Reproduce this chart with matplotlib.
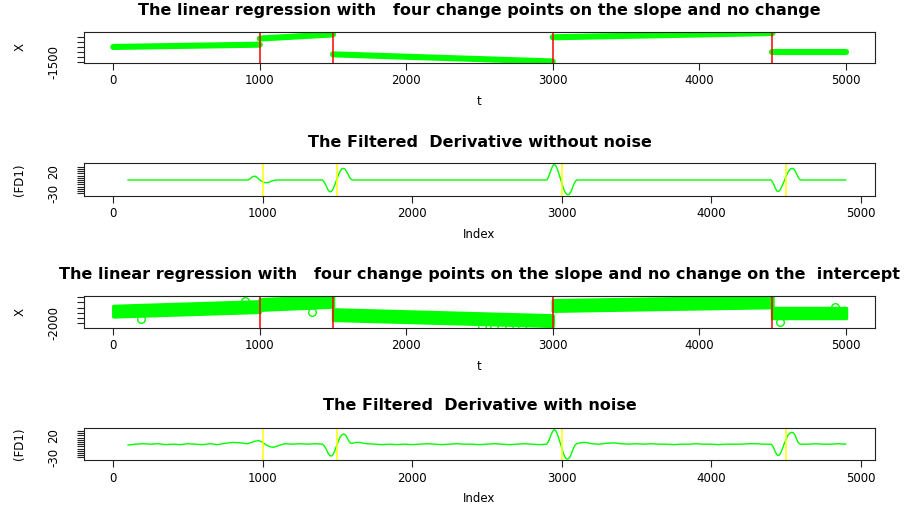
import matplotlib
matplotlib.use("Agg")
import matplotlib.pyplot as plt

W, H = 912, 509

# change points (red / yellow vertical lines)
change_points = [1000, 1500, 3000, 4500]

# regression without noise: segment ends (t) and fitted level at each end
seg_start = [0, 1000, 1500, 3000, 4500]
seg_end = [1000, 1500, 3000, 4500, 5000]
clean_start = [-1198, -1034, -1342, -1009, -1292]
clean_end = [-1153, -953, -1481, -926, -1292]

# regression with noise: band centre at segment ends, band half width
noisy_start = [-1540, -1285, -1672, -1323, -1622]
noisy_end = [-1365, -1165, -1900, -1185, -1622]
noisy_half = [200, 200, 200, 200, 195]
# stray points sticking out of the noisy band
stray_t = [186, 897, 1356, 1431, 2520, 2600, 2700, 2790, 4180, 4250, 4300, 4400, 4553, 4929]
stray_x = [-1823, -1150, -1554, -965, -2110, -2120, -2105, -2125, -968, -962, -966, -960, -1938, -1395]

# filtered derivative without noise
fd1_idx = [100, 900, 910, 920, 930, 940, 950, 960, 970, 980, 990, 1000, 1010, 1020, 1030,
           1040, 1050, 1060, 1070, 1080, 1090, 1100,
           1400, 1410, 1420, 1430, 1440, 1450, 1460, 1470, 1480, 1490, 1500, 1510, 1520,
           1530, 1540, 1550, 1560, 1570, 1580, 1590, 1600,
           2900, 2910, 2920, 2930, 2940, 2950, 2960, 2970, 2980, 2990, 3000, 3010, 3020,
           3030, 3040, 3050, 3060, 3070, 3080, 3090, 3100,
           4400, 4410, 4420, 4430, 4440, 4450, 4460, 4470, 4480, 4490, 4500, 4510, 4520,
           4530, 4540, 4550, 4560, 4570, 4580, 4590, 4600, 4900]
fd1_val = [0, 0, 1.5, 4, 7, 8.5, 8.5, 6.5, 3.5, 0.5, -2, -4, -5.5, -6, -6,
           -5.5, -4, -2.5, -1.5, -0.5, 0, 0,
           0, -4, -10, -17, -24, -27, -26, -21, -13, -4, 5, 14, 21,
           25.5, 26.5, 25, 20, 14, 7, 2, 0,
           0, 5, 14, 24, 32, 35.5, 33, 26, 16, 5, -6, -17, -26,
           -31, -33.5, -33, -28, -20, -11, -4, 0,
           0, -4, -11, -19, -25, -26, -23, -17, -9, -1, 7, 15, 21,
           25, 26.5, 26, 22, 15, 8, 2, 0, 0]

# filtered derivative with noise
fd2_idx = [100, 150, 200, 250, 300, 350, 400, 450, 500, 550, 600, 650, 700, 750, 800, 850, 900,
           925, 950, 975, 1000, 1025, 1050, 1075, 1100, 1125, 1150, 1200, 1250, 1300, 1350, 1400,
           1410, 1420, 1430, 1440, 1450, 1460, 1470, 1480, 1490, 1500, 1510, 1520, 1530, 1540,
           1550, 1560, 1570, 1580, 1590, 1600, 1625, 1650, 1675, 1700, 1750,
           1800, 1850, 1900, 1950, 2000, 2050, 2100, 2150, 2200, 2250, 2300, 2350, 2400, 2450,
           2500, 2550, 2600, 2650, 2700, 2750, 2800, 2850, 2900,
           2910, 2920, 2930, 2940, 2950, 2960, 2970, 2980, 2990, 3000, 3010, 3020, 3030, 3040,
           3050, 3060, 3070, 3080, 3090, 3100, 3125, 3150, 3175, 3200, 3250, 3300, 3350, 3400,
           3450, 3500, 3550, 3600, 3650, 3700, 3750, 3800, 3850, 3900, 3950, 4000, 4050, 4100,
           4150, 4200, 4250, 4300, 4350, 4400,
           4410, 4420, 4430, 4440, 4450, 4460, 4470, 4480, 4490, 4500, 4510, 4520, 4530, 4540,
           4550, 4560, 4570, 4580, 4590, 4600, 4650, 4700, 4750, 4800, 4850, 4900]
fd2_val = [-2, 0, 1, 0, 1, -1, 0, -1, 1, 0, -1, 1, -1, 2, 4, 3, 1,
           4, 7, 8, 4, -2, -6, -7, -4, -1, 1, 0, 1, 0, 1, 0,
           -3, -8, -15, -22, -26, -27, -24, -17, -8, 1, 10, 17, 21, 23,
           22, 18, 11, 5, 2, 2, 4, 4, 2, 1, 0,
           -1, 0, -1, 0, -1, 0, 1, 0, -1, 0, 1, 0, 0, -1,
           0, 1, 0, -1, 0, 1, 0, -1, 0,
           5, 13, 22, 29, 33, 31, 24, 14, 3, -8, -19, -28, -33, -34,
           -32, -26, -17, -8, -2, 1, 3, 4, 3, 1, 0, 2, 3, 1,
           0, 1, 0, 1, 0, 0, -1, 0, 0, 1, 0, 0, -1, 0,
           0, 0, 1, 1, 0, 0,
           -3, -10, -18, -24, -26, -23, -16, -7, 2, 10, 18, 23, 26, 27,
           26, 21, 13, 5, 1, 0, 0, 1, 0, 0, 1, 0]

x_ticks = [0, 1000, 2000, 3000, 4000, 5000]
p1_yticks = [-1500, -1400, -1300, -1200, -1100, -1000]
p3_yticks = [-2000, -1800, -1600, -1400, -1200, -1000]
fd_yticks = [-30, -25, -20, -15, -10, -5, 0, 5, 10, 15, 20, 25, 30]

GREEN = "#00ff00"
plt.rcParams["font.family"] = ["DejaVu Sans"]

fig = plt.figure(figsize=(W / 100, H / 100), dpi=100)


def make_axes(top, bottom):
    return fig.add_axes([84 / W, 1 - bottom / H, 791 / W, (bottom - top) / H])


def style(ax, title, title_y, xlabel, ylabel, yticks, ylabels, box_h):
    for s in ax.spines.values():
        s.set_linewidth(0.8)
        s.set_color("#222222")
    ax.set_xticks(x_ticks)
    ax.set_xticklabels([str(v) for v in x_ticks])
    ax.set_yticks(yticks)
    ax.set_yticklabels(ylabels)
    ax.tick_params(axis="both", direction="out", length=5, width=0.8,
                   color="#222222", labelsize=8.5)
    ax.tick_params(axis="x", pad=8)
    ax.tick_params(axis="y", pad=17, labelrotation=90)
    for lab in ax.get_xticklabels():
        lab.set_va("center")
    for lab in ax.get_yticklabels():
        lab.set_va("center")
        lab.set_ha("center")
    ax.set_xlabel(xlabel, fontsize=8.5, va="center")
    ax.xaxis.set_label_coords(0.5, -39 / box_h)
    ax.set_ylabel(ylabel, fontsize=8.5, va="center")
    ax.yaxis.set_label_coords((20 - 84) / 791, 0.5)
    fig.text((84 + 791 / 2) / W, 1 - title_y / H, title, ha="center", va="center",
             fontsize=11.5, fontweight="bold")


# panel 1: regression without noise
ax1 = make_axes(31.7, 62.7)
for t0, t1, y0, y1 in zip(seg_start, seg_end, clean_start, clean_end):
    ax1.plot([t0, t1], [y0, y1], color=GREEN, lw=4.4, solid_capstyle="round")
for c in change_points:
    ax1.axvline(c, color="red", lw=1.1)
ax1.set_xlim(-200, 5200)
ax1.set_ylim(-1505, -900)
style(ax1, "The linear regression with   four change points on the slope and no change",
      10, "t", "X", p1_yticks, ["-1500", "", "", "", "", ""], 31)

# panel 2: filtered derivative without noise
ax2 = make_axes(163.3, 195.7)
ax2.plot(fd1_idx, fd1_val, color=GREEN, lw=1)
for c in change_points:
    ax2.axvline(c, color="yellow", lw=1.1)
ax2.set_xlim(-195, 5096)
ax2.set_ylim(-35.7, 38)
style(ax2, "The Filtered  Derivative without noise", 142.3, "Index", "(FD1)", fd_yticks,
      ["-30", "", "", "", "", "", "", "", "", "", "20", "", ""], 32.4)

# panel 3: regression with noise
ax3 = make_axes(295.7, 327.7)
for t0, t1, y0, y1, h in zip(seg_start, seg_end, noisy_start, noisy_end, noisy_half):
    ax3.fill_between([t0, t1], [y0 - h, y1 - h], [y0 + h, y1 + h], color=GREEN, lw=2.5,
                     edgecolor=GREEN, joinstyle="round")
ax3.plot(stray_t, stray_x, "o", ms=5.5, mfc="none", mec=GREEN, mew=1)
for c in change_points:
    ax3.axvline(c, color="red", lw=1.1)
ax3.set_xlim(-200, 5200)
ax3.set_ylim(-2170, -950)
style(ax3, "The linear regression with   four change points on the slope and no change on the  intercept",
      275, "t", "X", p3_yticks, ["-2000", "", "", "", "", ""], 32)

# panel 4: filtered derivative with noise
ax4 = make_axes(427.7, 460)
ax4.plot(fd2_idx, fd2_val, color=GREEN, lw=1)
for c in change_points:
    ax4.axvline(c, color="yellow", lw=1.1)
ax4.set_xlim(-195, 5096)
ax4.set_ylim(-36, 37.5)
style(ax4, "The Filtered  Derivative with noise", 406, "Index", "(FD1)", fd_yticks,
      ["-30", "", "", "", "", "", "", "", "", "", "20", "", ""], 32.3)

fig.savefig("out.png", dpi=100)
